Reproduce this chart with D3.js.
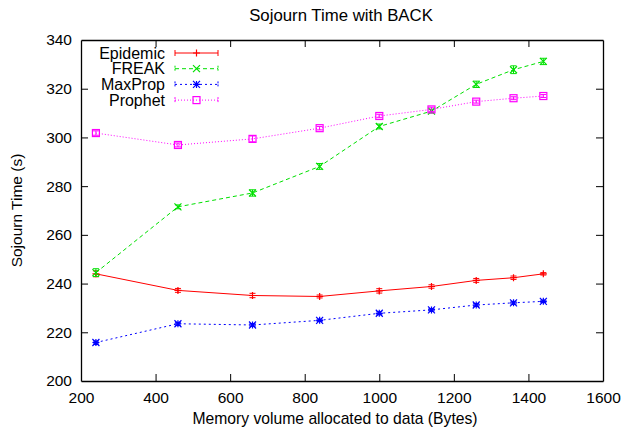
<!DOCTYPE html>
<html>
<head>
<meta charset="utf-8">
<script src="https://cdn.jsdelivr.net/npm/d3@7"></script>
<style>
  body { margin: 0; background: #fff; }
  text { font-family: "Liberation Sans", Arial, sans-serif; fill: #000; }
</style>
</head>
<body>
<div id="plot"></div>
<script>
// data
const memory = [240, 460, 660, 840, 1000, 1140, 1260, 1360, 1440];
const epidemic = [244.0, 237.2, 235.1, 234.7, 237.0, 238.8, 241.3, 242.4, 244.0];
const epidemicErr = [1.2, 0.8, 0.9, 0.6, 0.9, 0.7, 0.8, 0.7, 0.5];
const freak = [244.5, 271.5, 277.2, 288.1, 304.5, 310.8, 321.8, 327.8, 331.2];
const freakErr = [1.6, 0.8, 1.3, 1.2, 1.0, 0.8, 1.3, 1.6, 1.3];
const maxprop = [215.8, 223.5, 223.0, 224.9, 227.8, 229.2, 231.2, 232.1, 232.7];
const maxpropErr = [0.6, 0.6, 0.6, 0.5, 0.6, 0.5, 0.6, 0.6, 0.5];
const prophet = [301.8, 296.9, 299.4, 303.8, 308.8, 311.5, 314.7, 316.1, 317.0];
const prophetErr = [0.9, 0.8, 1.2, 0.7, 0.7, 0.9, 0.6, 0.6, 0.6];
const xTicks = [200, 400, 600, 800, 1000, 1200, 1400, 1600];
const yTicks = [200, 220, 240, 260, 280, 300, 320, 340];

const w = 623;
const h = 430;
const margin = {top: 40, right: 20, bottom: 49, left: 81};
const innerWidth = 603 - margin.left;
const innerHeight = 381 - margin.top;

const series = [
  {name: "Epidemic", values: epidemic, err: epidemicErr, color: "#ff0000", dash: null, marker: "plus"},
  {name: "FREAK", values: freak, err: freakErr, color: "#00e000", dash: "4,3", marker: "cross"},
  {name: "MaxProp", values: maxprop, err: maxpropErr, color: "#0000ff", dash: "2,3", marker: "star"},
  {name: "Prophet", values: prophet, err: prophetErr, color: "#ff00ff", dash: "1,2", marker: "square"}
];

const xScale = d3.scaleLinear().domain([200, 1600]).range([0, innerWidth]);
const yScale = d3.scaleLinear().domain([200, 340]).range([innerHeight, 0]);

const svg = d3.select("div#plot")
  .append("svg")
  .attr("width", w)
  .attr("height", h);

const g = svg.append("g")
  .attr("transform", `translate(${margin.left}, ${margin.top})`);

// axes: inward ticks, mirrored
const tickLen = 7;
g.append("g")
  .attr("class", "xAxis")
  .attr("transform", `translate(0, ${innerHeight})`)
  .call(d3.axisBottom(xScale).tickValues(xTicks).tickFormat(d3.format("d"))
    .tickSizeInner(-tickLen).tickSizeOuter(0).tickPadding(11));
g.append("g")
  .attr("class", "xTop mirror")
  .call(d3.axisTop(xScale).tickValues(xTicks).tickSizeInner(-tickLen).tickSizeOuter(0));
g.append("g")
  .attr("class", "yAxis")
  .call(d3.axisLeft(yScale).tickValues(yTicks).tickFormat(d3.format("d"))
    .tickSizeInner(-tickLen).tickSizeOuter(0).tickPadding(9));
g.append("g")
  .attr("class", "yRight mirror")
  .attr("transform", `translate(${innerWidth}, 0)`)
  .call(d3.axisRight(yScale).tickValues(yTicks).tickSizeInner(-tickLen).tickSizeOuter(0));

// mirrored axes carry ticks only
g.selectAll(".mirror .tick text").remove();

g.selectAll(".domain").attr("stroke", "#000").attr("stroke-width", 1.3);
g.selectAll(".tick line").attr("stroke", "#000");
g.selectAll(".tick text").style("font-size", "15.5px").attr("fill", "#000");

// remove tick marks at the frame corners
g.selectAll(".tick").filter(function(d) {
  return d === 200 || d === 1600 || d === 340;
}).select("line").remove();

// titles
svg.append("text")
  .attr("x", 341).attr("y", 21)
  .attr("text-anchor", "middle")
  .style("font-size", "16.8px")
  .text("Sojourn Time with BACK");

svg.append("text")
  .attr("x", 335).attr("y", 424)
  .attr("text-anchor", "middle")
  .style("font-size", "15.7px")
  .text("Memory volume allocated to data (Bytes)");

svg.append("text")
  .attr("transform", `translate(22, ${margin.top + innerHeight / 2}) rotate(-90)`)
  .attr("text-anchor", "middle")
  .style("font-size", "15.5px")
  .text("Sojourn Time (s)");

function drawMarker(sel, type, color) {
  const s = 3.5;
  if (type === "plus") {
    sel.append("path").attr("d", `M${-s},0H${s}M0,${-s}V${s}`);
  } else if (type === "cross") {
    sel.append("path").attr("d", `M${-s},${-s}L${s},${s}M${-s},${s}L${s},${-s}`);
  } else if (type === "star") {
    sel.append("path").attr("d", `M${-s},0H${s}M0,${-s}V${s}M${-s},${-s}L${s},${s}M${-s},${s}L${s},${-s}`);
  } else {
    sel.append("rect").attr("x", -s).attr("y", -s).attr("width", 2 * s).attr("height", 2 * s).attr("fill", "none");
  }
  sel.selectAll("path, rect").attr("stroke", color).attr("stroke-width", 1.2);
}

const line = d3.line()
  .x(d => xScale(d.x))
  .y(d => yScale(d.y));

series.forEach(s => {
  const pts = memory.map((m, i) => ({x: m, y: s.values[i], e: s.err[i]}));
  const sg = g.append("g").attr("class", "series");

  sg.append("path")
    .datum(pts)
    .attr("d", line)
    .attr("fill", "none")
    .attr("stroke", s.color)
    .attr("stroke-width", 1)
    .attr("stroke-dasharray", s.dash);

  // error bars
  const eb = sg.selectAll("g.err").data(pts).enter().append("g").attr("class", "err");
  eb.append("path")
    .attr("d", d => {
      const x = xScale(d.x), y1 = yScale(d.y - d.e), y2 = yScale(d.y + d.e);
      return `M${x},${y1}V${y2}M${x - 3},${y1}H${x + 3}M${x - 3},${y2}H${x + 3}`;
    })
    .attr("fill", "none")
    .attr("stroke", s.color)
    .attr("stroke-width", 1);

  const mk = sg.selectAll("g.mk").data(pts).enter().append("g")
    .attr("class", "mk")
    .attr("transform", d => `translate(${xScale(d.x)}, ${yScale(d.y)})`);
  mk.each(function() { drawMarker(d3.select(this), s.marker, s.color); });
});

// legend
const legend = svg.append("g").attr("class", "legend");
series.forEach((s, i) => {
  const y = 53 + i * 15.7;
  legend.append("text")
    .attr("x", 165).attr("y", y + 5.5)
    .attr("text-anchor", "end")
    .style("font-size", "16px")
    .text(s.name);
  legend.append("path")
    .attr("d", `M175,${y}H218`)
    .attr("stroke", s.color)
    .attr("stroke-width", 1)
    .attr("stroke-dasharray", s.dash);
  legend.append("path")
    .attr("d", `M175,${y - 3}V${y + 3}M218,${y - 3}V${y + 3}`)
    .attr("stroke", s.color)
    .attr("stroke-dasharray", s.dash ? "2,1" : null);
  const m = legend.append("g").attr("transform", `translate(196.5, ${y})`);
  drawMarker(m, s.marker, s.color);
});
</script>
</body>
</html>
